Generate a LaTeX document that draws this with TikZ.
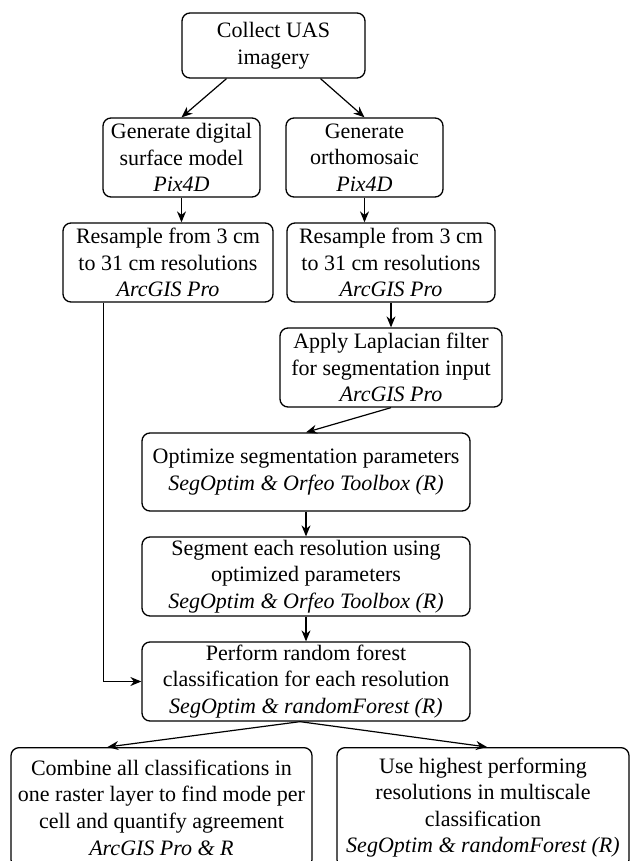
\documentclass[tikz,border=0pt]{standalone}
\usepackage{fontspec}
\setmainfont{Liberation Serif}
\usetikzlibrary{arrows.meta}

\begin{document}
\begin{tikzpicture}[x=0.5pt,y=-0.5pt,
  flowbox/.style={draw=black,rounded corners=4pt,align=center,inner sep=0pt,line width=0.65pt,font=\fontsize{11}{13.3}\selectfont},
  arr/.style={-{Stealth[length=5.5pt,width=4.5pt]},line width=0.6pt}]
\useasboundingbox (0,0) rectangle (632,861);
\clip (0,0) rectangle (632,861);
\node[flowbox,minimum width=91.5pt,minimum height=32.5pt] (collect) at (273.5,45.5) {Collect UAS\\imagery};
\node[flowbox,minimum width=78.5pt,minimum height=39.5pt] (dsm) at (181.5,157.5) {Generate digital\\surface model\\\textit{Pix4D}};
\node[flowbox,minimum width=78.5pt,minimum height=39.5pt] (ortho) at (364.5,157.5) {Generate\\orthomosaic\\\textit{Pix4D}};
\node[flowbox,minimum width=105pt,minimum height=39.5pt] (resdsm) at (168,262.5) {Resample from 3 cm\\to 31 cm resolutions\\\textit{ArcGIS Pro}};
\node[flowbox,minimum width=104pt,minimum height=39.5pt] (resortho) at (391,262.5) {Resample from 3 cm\\to 31 cm resolutions\\\textit{ArcGIS Pro}};
\node[flowbox,minimum width=111pt,minimum height=39.5pt] (laplace) at (391,367.5) {Apply Laplacian filter\\for segmentation input\\\textit{ArcGIS Pro}};
\node[flowbox,minimum width=164pt,minimum height=39pt] (optim) at (306,472) {Optimize segmentation parameters\\\textit{SegOptim \& Orfeo Toolbox (R)}};
\node[flowbox,minimum width=164pt,minimum height=39.5pt] (segment) at (306,576.5) {Segment each resolution using\\optimized parameters\\\textit{SegOptim \& Orfeo Toolbox (R)}};
\node[flowbox,minimum width=164pt,minimum height=39.5pt] (forest) at (306,681.5) {Perform random forest\\classification for each resolution\\\textit{SegOptim \& randomForest (R)}};
\node[flowbox,anchor=north,minimum width=150.5pt,minimum height=60pt] (combine) at (161.5,747) {Combine all classifications in\\one raster layer to find mode per\\cell and quantify agreement\\\textit{ArcGIS Pro \& R}};
\node[flowbox,anchor=north,minimum width=146pt,minimum height=60pt] (multi) at (483,747) {Use highest performing\\resolutions in multiscale\\classification\\\textit{SegOptim \& randomForest (R)}};

\draw[arr] ([xshift=-23.5pt]collect.south) -- (dsm.north);
\draw[arr] ([xshift=23.5pt]collect.south) -- (ortho.north);
\draw[arr] (dsm.south) -- (dsm.south |- resdsm.north);
\draw[arr] (ortho.south) -- (ortho.south |- resortho.north);
\draw[arr] (resortho) -- (laplace);
\draw[arr] (laplace.south) -- (optim.north);
\draw[arr] (optim) -- (segment);
\draw[arr] (segment) -- (forest);
\draw[arr] ([xshift=20.5pt]resdsm.south west) |- (forest.west);
\draw[arr] ([xshift=-3pt]forest.south) -- ([xshift=-27pt]combine.north);
\draw[arr] ([xshift=-3pt]forest.south) -- ([xshift=2pt]multi.north);
\end{tikzpicture}
\end{document}
